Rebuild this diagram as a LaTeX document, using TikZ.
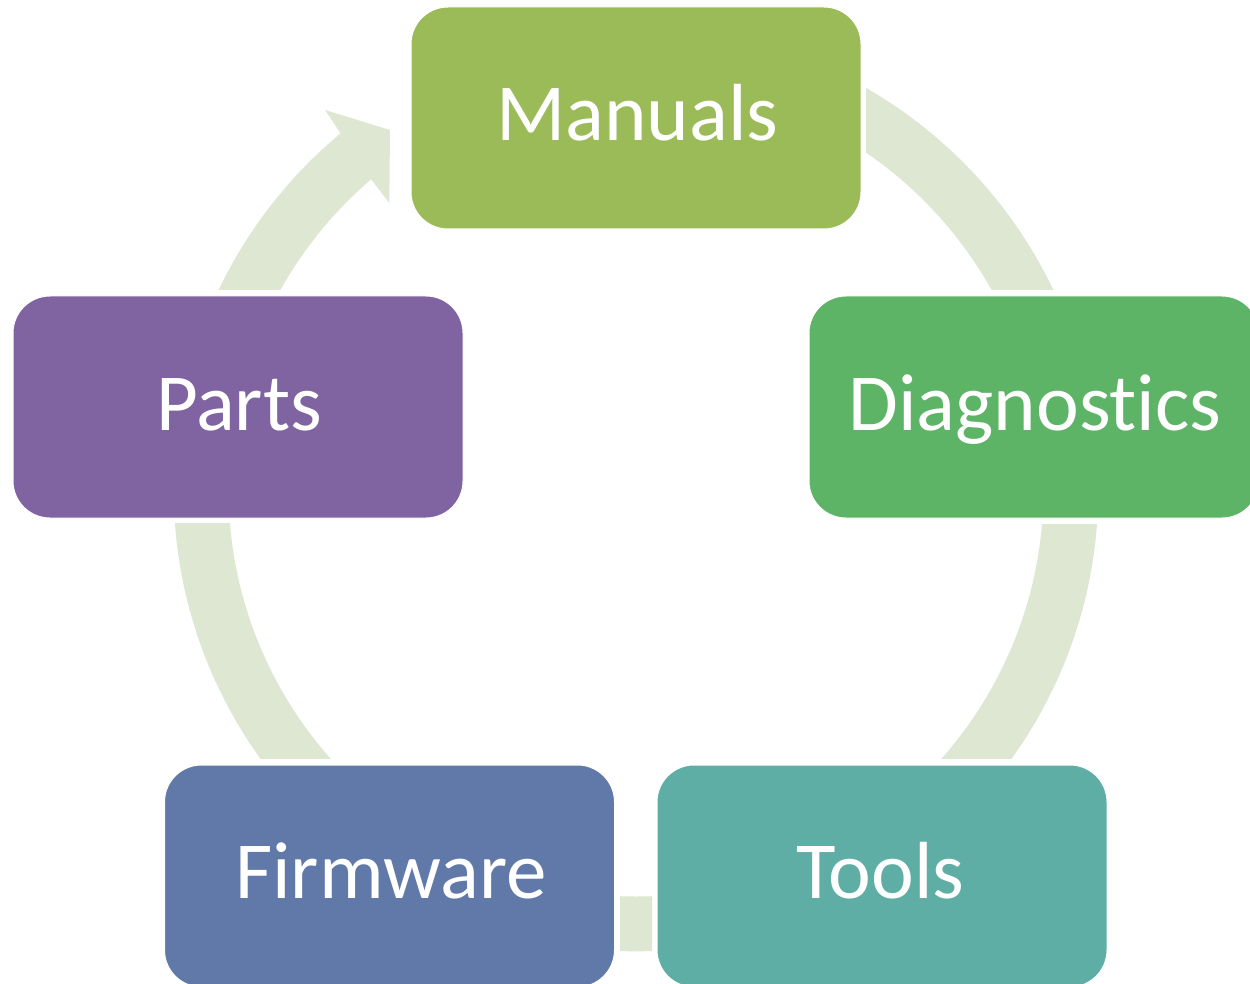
\documentclass[tikz,border=0pt]{standalone}
\usepackage{fontspec}
\setmainfont{Carlito}[Ligatures=NoCommon]
\definecolor{ringc}{HTML}{DEE7D1}
\definecolor{cManuals}{HTML}{9BBB59}
\definecolor{cDiag}{HTML}{5DB467}
\definecolor{cTools}{HTML}{5EAEA5}
\definecolor{cFirm}{HTML}{6179A8}
\definecolor{cParts}{HTML}{8064A2}
\begin{document}
\begin{tikzpicture}[x=1pt,y=-1pt,
  box/.style={rounded corners=37pt, minimum width=450pt, minimum height=222pt, inner sep=0pt, draw=white, line width=1pt},
  lbl/.style={text=white, font=\fontsize{81}{97}\selectfont, anchor=base, inner sep=0pt},
  ringfill/.style={fill=ringc, even odd rule}]
\useasboundingbox (0,0) rectangle (1250,984);
\fill[white] (0,0) rectangle (1250,984);

% ring segments
\begin{scope}
  \clip (866,0) rectangle (1250,290);
  \fill[ringfill] (636,489) circle[radius=462.3pt] (636,489) circle[radius=407.5pt];
\end{scope}
\begin{scope}
  \clip (700,524) rectangle (1250,758);
  \fill[ringfill] (636,489) circle[radius=462.3pt] (636,489) circle[radius=407.5pt];
\end{scope}
\begin{scope}
  \clip (620,860) rectangle (652,970);
  \fill[ringfill] (636,489) circle[radius=462.3pt] (636,489) circle[radius=407.5pt];
\end{scope}
\begin{scope}
  \clip (0,523) rectangle (560,758);
  \fill[ringfill] (636,489) circle[radius=462.3pt] (636,489) circle[radius=407.5pt];
\end{scope}
\begin{scope}
  \clip (259.6,9.4) -- (439.5,279) -- (439.5,290) -- (150,290) -- (150,9.4) -- cycle;
  \fill[ringfill] (636,489) circle[radius=462.3pt] (636,489) circle[radius=407.5pt];
\end{scope}
\coordinate (b1) at (325,110);
\coordinate (t1) at (390,130);
\coordinate (t2) at (389.3,203);
\coordinate (n2) at (371.7,180);
\fill[ringc] (b1) -- (t1) -- (t2) -- (n2) -- cycle;

% boxes
\node[box, fill=cManuals] (manuals) at (636,118) {};
\node[box, fill=cDiag] (diag) at (1034,407) {};
\node[box, fill=cTools] (tools) at (882,876) {};
\node[box, fill=cFirm] (firm) at (389.5,876) {};
\node[box, fill=cParts] (parts) at (238,407) {};

% labels
\node[lbl] (tmanuals) at (637.5,141) {Manuals};
\node[lbl] (tdiag) at (1035,430) {Diagnostics};
\node[lbl] (ttools) at (880.5,898) {Tools};
\node[lbl] (tfirm) at (391,898) {Firmware};
\node[lbl] (tparts) at (239,430) {Parts};
\end{tikzpicture}
\end{document}
